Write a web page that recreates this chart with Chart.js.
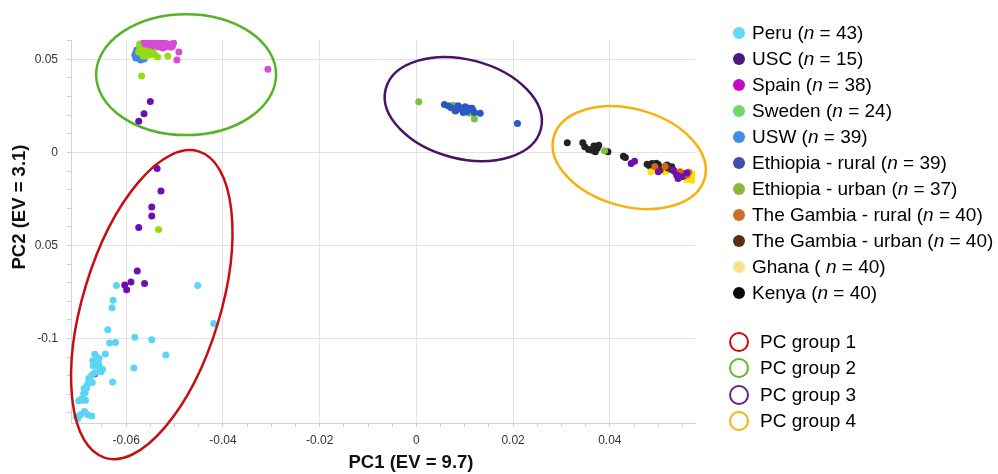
<!DOCTYPE html>
<html><head><meta charset="utf-8">
<script src="https://cdn.jsdelivr.net/npm/chart.js@4.4.1/dist/chart.umd.min.js"></script>
<style>
html,body{margin:0;padding:0;background:#fff;}
#wrap{position:relative;width:998px;height:474px;overflow:hidden;background:#fff;}
#c{position:absolute;left:0;top:0;}
.leg{position:absolute;height:26px;display:flex;align-items:center;font-family:'Liberation Sans',Arial,sans-serif;font-size:19px;color:#000;white-space:nowrap;}
.dot{width:12px;height:12px;border-radius:50%;margin-right:7px;flex:none;}
.ring{width:20px;height:20px;border-radius:50%;border:2.5px solid;box-sizing:border-box;margin-right:11px;flex:none;}
</style></head>
<body>
<div id="wrap"><canvas id="c" width="998" height="474"></canvas><div id="legend"></div></div>
<script>
// ---------- data ----------
const seriesNames = ['Peru','USC','Spain','Sweden','USW','Ethiopia - rural','Ethiopia - urban','The Gambia - rural','The Gambia - urban','Ghana','Kenya'];
const seriesCounts = [43,15,38,24,39,39,37,40,40,40,40];
const seriesParen = ['(','(','(','(','(','(','(','(','(','( ','('];

const peru = [[-0.0620,-0.0715],[-0.0452,-0.0715],[-0.0627,-0.0794],[-0.0629,-0.0835],[-0.0638,-0.0953],[-0.0419,-0.0919],
[-0.0634,-0.1024],[-0.0622,-0.1021],[-0.0582,-0.0993],[-0.0547,-0.1006],[-0.0518,-0.1088],[-0.0584,-0.1158],
[-0.0643,-0.1083],[-0.0665,-0.1085],[-0.0656,-0.1107],[-0.0669,-0.1119],[-0.0668,-0.1147],[-0.0655,-0.1156],
[-0.0649,-0.1165],[-0.0652,-0.1178],[-0.0665,-0.1184],[-0.0677,-0.1213],[-0.0670,-0.1236],[-0.0628,-0.1234],
[-0.0681,-0.1253],[-0.0687,-0.1269],[-0.0685,-0.1291],[-0.0692,-0.1325],[-0.0684,-0.1332],[-0.0698,-0.1334],
[-0.0686,-0.1392],[-0.0694,-0.1408],[-0.0679,-0.1410],[-0.0671,-0.1416],[-0.0700,-0.1431],[-0.0703,-0.1420],
[-0.0682,-0.1267],[-0.0688,-0.1297],[-0.0671,-0.1197],[-0.0689,-0.1332],[-0.0657,-0.1138],[-0.0661,-0.1098],[-0.0678,-0.1238]];

const usc = [[-0.0550,0.0274],[-0.0563,0.0208],[-0.0574,0.0168],
[-0.0536,-0.0086],[-0.0528,-0.0208],[-0.0547,-0.0294],[-0.0547,-0.0342],[-0.0574,-0.0403],
[-0.0577,-0.0637],[-0.0590,-0.0697],[-0.0603,-0.0713],[-0.0599,-0.0738],[-0.0562,-0.0704],[-0.0665,-0.1189],
[0.0451,-0.0048],[0.0444,-0.0059],[0.0500,-0.0104],[0.0531,-0.0095],[0.0538,-0.0122],[0.0548,-0.0131],[0.0559,-0.0110],[0.0541,-0.0140]];

const spain = [[-0.0563,0.0596],[-0.0557,0.0592],[-0.0551,0.0596],[-0.0545,0.0592],[-0.0539,0.0596],[-0.0533,0.0592],
[-0.0526,0.0588],[-0.0520,0.0588],[-0.0514,0.0583],[-0.0508,0.0578],[-0.0504,0.0572],[-0.0555,0.0588],
[-0.0547,0.0583],[-0.0541,0.0588],[-0.0535,0.0583],[-0.0528,0.0578],[-0.0522,0.0578],[-0.0516,0.0572],
[-0.0510,0.0567],[-0.0543,0.0572],[-0.0533,0.0567],[-0.0524,0.0561],[-0.0553,0.0578],[-0.0559,0.0588],
[-0.0537,0.0593],[-0.0530,0.0588],[-0.0518,0.0583],[-0.0549,0.0593],[-0.0491,0.0539],[-0.0495,0.0496],
[-0.0307,0.0447],[-0.0512,0.0577],[-0.0506,0.0566],[-0.0526,0.0566],[-0.0520,0.0566],[-0.0502,0.0588],
[-0.0561,0.0582],[-0.0545,0.0598]];

const sweden = [[-0.0572,0.0566],[-0.0565,0.0571],[-0.0559,0.0566],[-0.0553,0.0561],[-0.0570,0.0550],[-0.0563,0.0550],
[-0.0557,0.0545],[-0.0551,0.0545],[-0.0568,0.0534],[-0.0561,0.0528],[-0.0555,0.0534],[-0.0549,0.0528],
[-0.0565,0.0518],[-0.0559,0.0518],[-0.0574,0.0539],[-0.0545,0.0539],[-0.0535,0.0512],[-0.0514,0.0518],
[-0.0568,0.0410],[-0.0533,-0.0414],[-0.0553,0.0523],[-0.0547,0.0555],[-0.0572,0.0582],[-0.0541,0.0525]];

const usw = [[-0.0580,0.0534],[-0.0576,0.0550],[-0.0572,0.0561],[-0.0578,0.0518],[-0.0582,0.0523],[-0.0574,0.0507],
[-0.0570,0.0496],[-0.0565,0.0512],[-0.0572,0.0528],[-0.0576,0.0539],[-0.0568,0.0545],[-0.0580,0.0507],
[-0.0563,0.0502],[-0.0578,0.0550]];

const ethRural = [[0.0058,0.0258],[0.0072,0.0240],[0.0086,0.0251],[0.0093,0.0233],[0.0101,0.0245],[0.0110,0.0237],
[0.0117,0.0227],[0.0120,0.0215],[0.0132,0.0210],[0.0209,0.0155],[0.0081,0.0222],[0.0097,0.0215],
[0.0104,0.0218],[0.0115,0.0237],[0.0066,0.0249],[0.0088,0.0241]];

const ethUrban = [[0.0005,0.0272],[0.0076,0.0254],[0.0082,0.0237],[0.0089,0.0245],[0.0099,0.0240],[0.0106,0.0227],
[0.0110,0.0210],[0.0120,0.0179],[0.0079,0.0227],[0.0096,0.0222],[0.0069,0.0249],[0.0389,0.0009]];

const gambiaRural = [[0.0493,-0.0077],[0.0514,-0.0074],[0.0545,-0.0104],[0.0552,-0.0113],[0.0559,-0.0122],
[0.0539,-0.0111],[0.0563,-0.0106]];

const gambiaUrban = [[0.0520,-0.0084],[0.0533,-0.0101],[0.0553,-0.0127],[0.0504,-0.0095]];

const ghana = [[0.0485,-0.0104],[0.0514,-0.0104],[0.0562,-0.0131],[0.0569,-0.0140],[0.0565,-0.0122],
[0.0572,-0.0117],[0.0559,-0.0145],[0.0570,-0.0149],[0.0574,-0.0133]];

const kenya = [[0.0312,0.0052],[0.0344,0.0052],[0.0348,0.0030],[0.0367,0.0034],[0.0374,0.0022],[0.0370,0.0003],
[0.0363,0.0012],[0.0377,0.0039],[0.0396,0.0003],[0.0428,-0.0020],[0.0432,-0.0027],[0.0487,-0.0059],
[0.0493,-0.0074],[0.0483,-0.0074],[0.0500,-0.0065],[0.0507,-0.0081],[0.0528,-0.0077],[0.0524,-0.0091],
[0.0514,-0.0086],[0.0356,0.0015],[0.0368,0.0015],[0.0496,-0.0058],[0.0477,-0.0063],[0.0518,-0.0068]];

const seriesData = [peru, usc, spain, sweden, usw, ethRural, ethUrban, gambiaRural, gambiaUrban, ghana, kenya];

// PC group ellipses (data units)
const groupNames = ['PC group 1','PC group 2','PC group 3','PC group 4'];
const groupCX = [-0.0547, -0.0476, 0.0097, 0.0440];
const groupCY = [-0.0818, 0.0418, 0.0233, -0.0028];
const groupRX = [0.01419, 0.0186, 0.01657, 0.01618];
const groupRY = [0.0861, 0.0325, 0.0266, 0.0262];
const groupAngle = [17, 0, 14.6, 15.4];

// axes
const xMin = -0.0714, xMax = 0.0576, yMin = -0.1454, yMax = 0.0604;
const xMajorTicks = [-0.06, -0.04, -0.02, 0, 0.02, 0.04];
const xTickLabels = ['-0.06', '-0.04', '-0.02', '0', '0.02', '0.04'];
const yMajorTicks = [0.05, 0, -0.05, -0.1];
const yTickLabels = ['0.05', '0', '0.05', '-0.1'];
const xMinorStep = 0.005, yMinorStep = 0.01;
const xTitle = 'PC1 (EV = 9.7)', yTitle = 'PC2 (EV = 3.1)';

// ---------- styles ----------
const pointColors = ['#5cd5f4','#6c10b4','#d64cd8','#93dc14','#3e86e4','#2b56c6','#78c33a','#d8661c','#5a2e0e','#ffe000','#222222'];
const legendColors = ['#62d9f5','#4b1a7c','#c40cc4','#6ad86a','#3d8fe2','#3f4fae','#8cb83c','#cf6d2a','#5a3010','#fde08c','#0a0a0a'];
const groupColors = ['#c41010','#55b426','#4a1262','#f7b10a'];
const groupLegendColors = ['#cc0a0a','#5cb82a','#5e2294','#f7b10a'];

function buildTicks(min, max, step){
  const out = [];
  for (let k = Math.ceil(min/step - 1e-9); k*step <= max + 1e-12; k++) out.push(Math.round(k*step*1e6)/1e6);
  return out;
}
const idxOf = (arr, v) => arr.findIndex(m => Math.abs(m - v) < 1e-7);

const ellipsePlugin = {
  id: 'groupEllipses',
  afterDatasetsDraw(chart){
    const {ctx, scales:{x, y}} = chart;
    groupNames.forEach((g, i) => {
      const cx = x.getPixelForValue(groupCX[i]), cy = y.getPixelForValue(groupCY[i]);
      const rx = Math.abs(x.getPixelForValue(groupCX[i] + groupRX[i]) - cx);
      const ry = Math.abs(y.getPixelForValue(groupCY[i] + groupRY[i]) - cy);
      ctx.save();
      ctx.beginPath();
      ctx.ellipse(cx, cy, rx, ry, groupAngle[i]*Math.PI/180, 0, 2*Math.PI);
      ctx.strokeStyle = groupColors[i];
      ctx.lineWidth = 2.5;
      ctx.stroke();
      ctx.restore();
    });
  }
};

const titlePlugin = {
  id: 'axisTitles',
  afterDraw(chart){
    const {ctx, chartArea:a} = chart;
    ctx.save();
    ctx.fillStyle = '#111';
    ctx.font = "bold 18.5px 'Liberation Sans', Arial, sans-serif";
    ctx.textAlign = 'center';
    ctx.textBaseline = 'middle';
    ctx.fillText(xTitle, a.left + 340, a.bottom + 40);
    ctx.translate(20, a.top + 167);
    ctx.rotate(-Math.PI/2);
    ctx.fillText(yTitle, 0, 0);
    ctx.restore();
  }
};

const tickFont = {family: "'Liberation Sans', Arial, sans-serif", size: 12};

new Chart(document.getElementById('c'), {
  type: 'scatter',
  data: {
    datasets: seriesNames.map((n, i) => ({
      label: n,
      data: seriesData[i].map(p => ({x: p[0], y: p[1]})),
      backgroundColor: pointColors[i],
      borderWidth: 0,
      pointRadius: 3.5,
      pointHoverRadius: 3.5
    }))
  },
  options: {
    responsive: false,
    animation: false,
    devicePixelRatio: 1,
    layout: {padding: {top: 40, right: 303, bottom: 0, left: 0}},
    plugins: {legend: {display: false}, tooltip: {enabled: false}},
    scales: {
      x: {
        type: 'linear', min: xMin, max: xMax,
        afterBuildTicks: s => { s.ticks = buildTicks(xMin, xMax, xMinorStep).map(v => ({value: v})); },
        afterFit: s => { s.height = 51; },
        grid: {
          color: c => idxOf(xMajorTicks, c.tick ? c.tick.value : NaN) >= 0 ? '#e2e2e2' : 'rgba(0,0,0,0)',
          tickColor: '#cfcfcf', tickLength: 4, lineWidth: 1
        },
        border: {display: true, color: '#d4d4d4'},
        ticks: {
          autoSkip: false, maxRotation: 0, padding: 6, color: '#333', font: tickFont,
          callback: v => { const k = idxOf(xMajorTicks, v); return k >= 0 ? xTickLabels[k] : ''; }
        }
      },
      y: {
        type: 'linear', min: yMin, max: yMax,
        afterBuildTicks: s => { s.ticks = buildTicks(yMin, yMax, yMinorStep).map(v => ({value: v})); },
        afterFit: s => { s.width = 71; },
        grid: {
          color: c => idxOf(yMajorTicks, c.tick ? c.tick.value : NaN) >= 0 ? '#e2e2e2' : 'rgba(0,0,0,0)',
          tickColor: '#cfcfcf', tickLength: 4, lineWidth: 1
        },
        border: {display: true, color: '#d4d4d4'},
        ticks: {
          autoSkip: false, padding: 9, color: '#333', font: tickFont,
          callback: v => { const k = idxOf(yMajorTicks, v); return k >= 0 ? yTickLabels[k] : ''; }
        }
      }
    }
  },
  plugins: [ellipsePlugin, titlePlugin]
});

// ---------- HTML legend ----------
const leg = document.getElementById('legend');
seriesNames.forEach((n, i) => {
  const row = document.createElement('div');
  row.className = 'leg';
  row.style.left = '733px';
  row.style.top = (32.7 + i*26 - 13) + 'px';
  const d = document.createElement('span');
  d.className = 'dot';
  d.style.background = legendColors[i];
  row.appendChild(d);
  const t = document.createElement('span');
  t.innerHTML = n + ' ' + seriesParen[i] + '<i>n</i> = ' + seriesCounts[i] + ')';
  row.appendChild(t);
  leg.appendChild(row);
});
groupNames.forEach((g, i) => {
  const row = document.createElement('div');
  row.className = 'leg';
  row.style.left = '729px';
  row.style.top = (342 + i*26.3 - 13) + 'px';
  const d = document.createElement('span');
  d.className = 'ring';
  d.style.borderColor = groupLegendColors[i];
  row.appendChild(d);
  const t = document.createElement('span');
  t.textContent = g;
  row.appendChild(t);
  leg.appendChild(row);
});
</script>
</body></html>
